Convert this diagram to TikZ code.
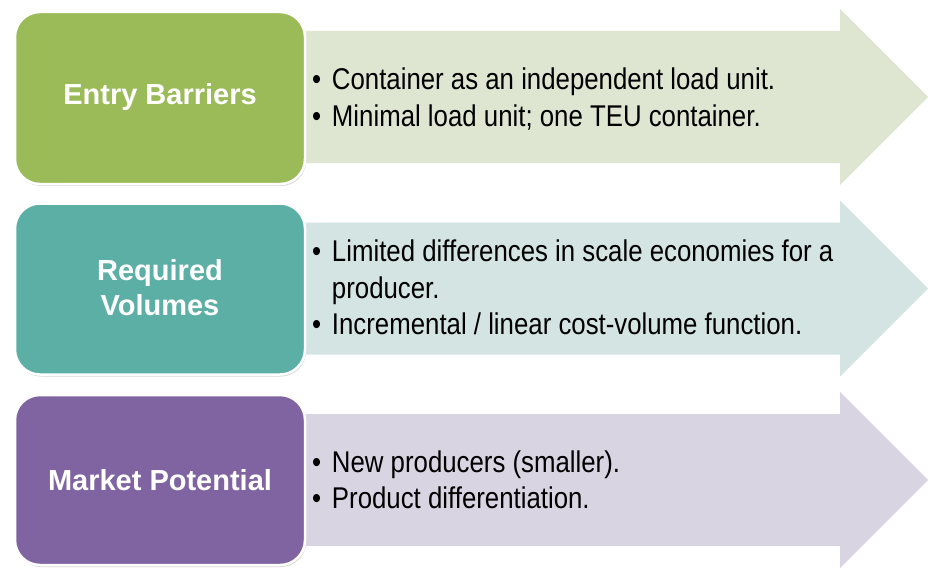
\documentclass[tikz,border=0pt]{standalone}
\usepackage{graphicx}
\usepackage{fontspec}
\setmainfont{Liberation Sans}
\usetikzlibrary{shadows}
\definecolor{boxgreen}{HTML}{9BBB59}
\definecolor{boxteal}{HTML}{5CAFA5}
\definecolor{boxpurple}{HTML}{8064A2}
\definecolor{arrgreen}{HTML}{DEE6D2}
\definecolor{arrteal}{HTML}{D4E4E2}
\definecolor{arrpurple}{HTML}{D9D4E2}
\newcommand{\bitem}[1]{\par\hangindent=23pt\hangafter=1\noindent\makebox[23pt][l]{\textbullet}#1}
\newcommand{\blist}[1]{\scalebox{0.86}[1]{\parbox{700pt}{\raggedright\fontsize{30}{36.5}\selectfont #1}}}
\tikzset{
  titlebox/.style={draw=white, line width=2.5pt, rounded corners=25pt,
    drop shadow={shadow xshift=1pt, shadow yshift=-2pt, opacity=0.25, fill=black!60}},
  titletext/.style={text=white, font=\fontsize{29}{35}\selectfont\bfseries, align=center, inner sep=0pt},
  bullettext/.style={anchor=west, inner sep=0pt, text=black},
}
\begin{document}
\begin{tikzpicture}[x=1pt,y=-1pt]
\useasboundingbox (0,0) rectangle (928,567);
\fill[white] (0,0) rectangle (928,567);
% arrows
\foreach \c/\col in {97/arrgreen,288.5/arrteal,480/arrpurple}{
  \fill[\col] (290,\c-66) -- (840,\c-66) -- (840,\c-88) -- (928,\c) -- (840,\c+88) -- (840,\c+66) -- (290,\c+66) -- cycle;
}
% title boxes
\filldraw[titlebox, fill=boxgreen] (15,12) rectangle (305,184);
\filldraw[titlebox, fill=boxteal] (15,203.5) rectangle (305,374.5);
\filldraw[titlebox, fill=boxpurple] (15,395) rectangle (305,565);
\node[titletext] (t1) at (160,97) {Entry Barriers};
\node[titletext] (t2) at (160,287.5) {Required\\Volumes};
\node[titletext] (t3) at (160,480) {Market Potential};
% bullet texts
\node[bullettext] (b1) at (312,99) {\blist{\bitem{Container as an independent load unit.}\bitem{Minimal load unit; one TEU container.}}};
\node[bullettext] (b2) at (312,287.5) {\blist{\bitem{Limited differences in scale economies for a\newline producer.}\bitem{Incremental / linear cost-volume function.}}};
\node[bullettext] (b3) at (312,480) {\blist{\bitem{New producers (smaller).}\bitem{Product differentiation.}}};
\end{tikzpicture}
\end{document}
